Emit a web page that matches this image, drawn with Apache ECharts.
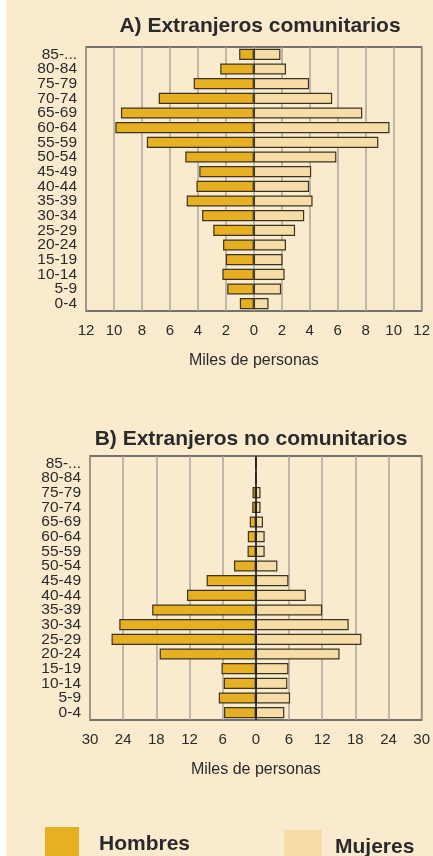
<!DOCTYPE html>
<html>
<head>
<meta charset="utf-8">
<script src="https://cdn.jsdelivr.net/npm/echarts@6/dist/echarts.min.js"></script>
<style>
  html, body { margin: 0; padding: 0; background: #ffffff; }
  #chart { position: absolute; left: 6px; top: 0; width: 427px; height: 856px; background: #faebcf; }
</style>
</head>
<body>
<div id="chart"></div>
<script>
// grupos de edad (de abajo a arriba)
const ageGroups = ['0-4', '5-9', '10-14', '15-19', '20-24', '25-29', '30-34', '35-39', '40-44',
  '45-49', '50-54', '55-59', '60-64', '65-69', '70-74', '75-79', '80-84', '85-...']

// A) comunitarios, miles de personas
const menA = [1.0, 1.9, 2.25, 2.0, 2.2, 2.9, 3.7, 4.8, 4.1, 3.9, 4.9, 7.65, 9.9, 9.5, 6.8, 4.3, 2.4, 1.05]
const womenA = [1.05, 1.95, 2.2, 2.05, 2.3, 2.95, 3.6, 4.2, 3.95, 4.1, 5.9, 8.9, 9.7, 7.75, 5.6, 3.95, 2.3, 1.9]

// B) no comunitarios
const menB = [5.75, 6.7, 5.8, 6.2, 17.4, 26.1, 24.7, 18.75, 12.45, 8.9, 3.95, 1.5, 1.45, 1.1, 0.65, 0.6, 0, 0]
const womenB = [5.15, 6.2, 5.7, 5.9, 15.15, 19.1, 16.8, 12.0, 9.05, 5.9, 3.9, 1.6, 1.6, 1.3, 0.85, 0.85, 0, 0]

const menColor = '#e6b022'
const womenColor = '#f6dca7'
const font = 'Liberation Sans, Arial, sans-serif'
const ink = '#2a2a2a'

const chart = echarts.init(document.getElementById('chart'))

function xAxisFor(gridIndex, max, step) {
  return {
    type: 'value',
    gridIndex: gridIndex,
    min: -max,
    max: max,
    interval: step,
    name: 'Miles de personas',
    nameLocation: 'middle',
    nameGap: 42,
    nameTextStyle: { color: ink, fontSize: 16, fontFamily: font },
    axisLine: { show: false },
    axisTick: { show: false },
    axisLabel: {
      color: ink,
      fontSize: 15,
      fontFamily: font,
      margin: 12,
      formatter: v => Math.abs(v)
    },
    splitLine: { show: true, lineStyle: { color: '#a9a59c', width: 1.5 } }
  }
}

function yAxisFor(gridIndex) {
  return {
    type: 'category',
    gridIndex: gridIndex,
    data: ageGroups,
    axisLine: { show: false },
    axisTick: { show: false },
    axisLabel: { interval: 0, color: ink, fontSize: 15.5, fontFamily: font, margin: 9, lineHeight: 14 }
  }
}

function barSeries(name, idx, values, sign, color, extra) {
  return Object.assign({
    name: name,
    type: 'bar',
    xAxisIndex: idx,
    yAxisIndex: idx,
    stack: 'p' + idx,
    barCategoryGap: '24%',
    data: values.map(v => sign * v),
    itemStyle: { color: color, borderColor: '#3b3423', borderWidth: 1.2 },
    silent: true
  }, extra || {})
}

chart.setOption({
  animation: false,
  title: [
    {
      text: 'A) Extranjeros comunitarios',
      left: 249, top: 11, textAlign: 'center',
      textStyle: { fontSize: 21, fontWeight: 'bold', color: ink, fontFamily: font }
    },
    {
      text: 'B) Extranjeros no comunitarios',
      left: 240, top: 424, textAlign: 'center',
      textStyle: { fontSize: 21, fontWeight: 'bold', color: ink, fontFamily: font }
    }
  ],
  legend: [
    {
      data: ['Hombres'], left: 39, top: 827, padding: 0,
      itemWidth: 34, itemHeight: 34,
      icon: 'rect',
      itemStyle: { borderWidth: 0 },
      textStyle: { fontSize: 21, fontWeight: 'bold', color: ink, fontFamily: font, padding: [12, 0, 0, 15] }
    },
    {
      data: ['Mujeres'], left: 278, top: 830, padding: 0,
      itemWidth: 38, itemHeight: 34,
      icon: 'rect',
      itemStyle: { borderWidth: 0 },
      textStyle: { fontSize: 21, fontWeight: 'bold', color: ink, fontFamily: font, padding: [6, 0, 0, 8] }
    }
  ],
  grid: [
    { left: 80, right: 9, top: 47, height: 264, show: true, borderColor: '#4a4a4a', borderWidth: 1.5, backgroundColor: 'transparent' },
    { left: 84, right: 9, top: 456, height: 264, show: true, borderColor: '#4a4a4a', borderWidth: 1.5, backgroundColor: 'transparent' }
  ],
  xAxis: [xAxisFor(0, 12, 2), xAxisFor(1, 30, 6)],
  yAxis: [yAxisFor(0), yAxisFor(1)],
  series: [
    barSeries('Hombres', 0, menA, -1, menColor),
    barSeries('Mujeres', 0, womenA, 1, womenColor),
    barSeries('Hombres', 1, menB, -1, menColor, {
      markLine: {
        silent: true,
        symbol: 'none',
        label: { show: false },
        lineStyle: { color: '#1a1a1a', width: 1.5, type: 'solid' },
        data: [{ xAxis: 0 }]
      }
    }),
    barSeries('Mujeres', 1, womenB, 1, womenColor)
  ]
})
</script>
</body>
</html>
